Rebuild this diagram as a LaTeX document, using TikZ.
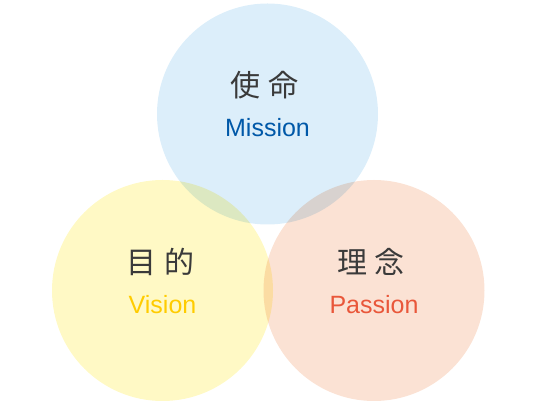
\documentclass[tikz,border=0pt]{standalone}
\usepackage{fontspec}
\setsansfont{Liberation Sans}
\newfontfamily\jpfont{Noto Sans CJK JP}
\usetikzlibrary{positioning,calc}
\definecolor{missionfill}{HTML}{DCEEFA}
\definecolor{visionfill}{HTML}{FFF9C5}
\definecolor{passionfill}{HTML}{FBE2D4}
\definecolor{missiontext}{HTML}{0058A8}
\definecolor{visiontext}{HTML}{FFCC00}
\definecolor{passiontext}{HTML}{E9573A}
\definecolor{jpgray}{HTML}{3A3A3A}

\begin{document}
\begin{tikzpicture}[x=1pt, y=1pt,
  bubble/.style={circle, minimum size=221pt, inner sep=0pt, draw=none},
  jplabel/.style={font=\jpfont\fontsize{30}{30}\selectfont, text=jpgray,
                  inner sep=0pt, anchor=center},
  enlabel/.style={font=\sffamily\fontsize{25}{25}\selectfont,
                  inner sep=0pt, anchor=base},
]
\useasboundingbox (0,0) rectangle (533,406);

% circles, multiplied where they overlap
\begin{scope}[blend mode=multiply]
  \node[bubble, fill=missionfill] (mission) at (267.5, 292) {};
  \node[bubble, fill=visionfill] (vision) at (162.5, 115.5) {};
  \node[bubble, fill=passionfill] (passion) at (374, 115.5) {};
\end{scope}

\node[jplabel] (missionjp) at ($(mission.center)+(-3,29)$) {使\hspace{8pt}命};
\node[enlabel, text=missiontext] (missionen) at ($(mission.center)+(0,-23)$) {Mission};

\node[jplabel] (visionjp) at ($(vision.center)+(-2,28.5)$) {目\hspace{8pt}的};
\node[enlabel, text=visiontext] (visionen) at ($(vision.center)+(0,-23.5)$) {Vision};

\node[jplabel] (passionjp) at ($(passion.center)+(-3,28.5)$) {理\hspace{8pt}念};
\node[enlabel, text=passiontext] (passionen) at ($(passion.center)+(0,-23.5)$) {Passion};

\end{tikzpicture}
\end{document}
